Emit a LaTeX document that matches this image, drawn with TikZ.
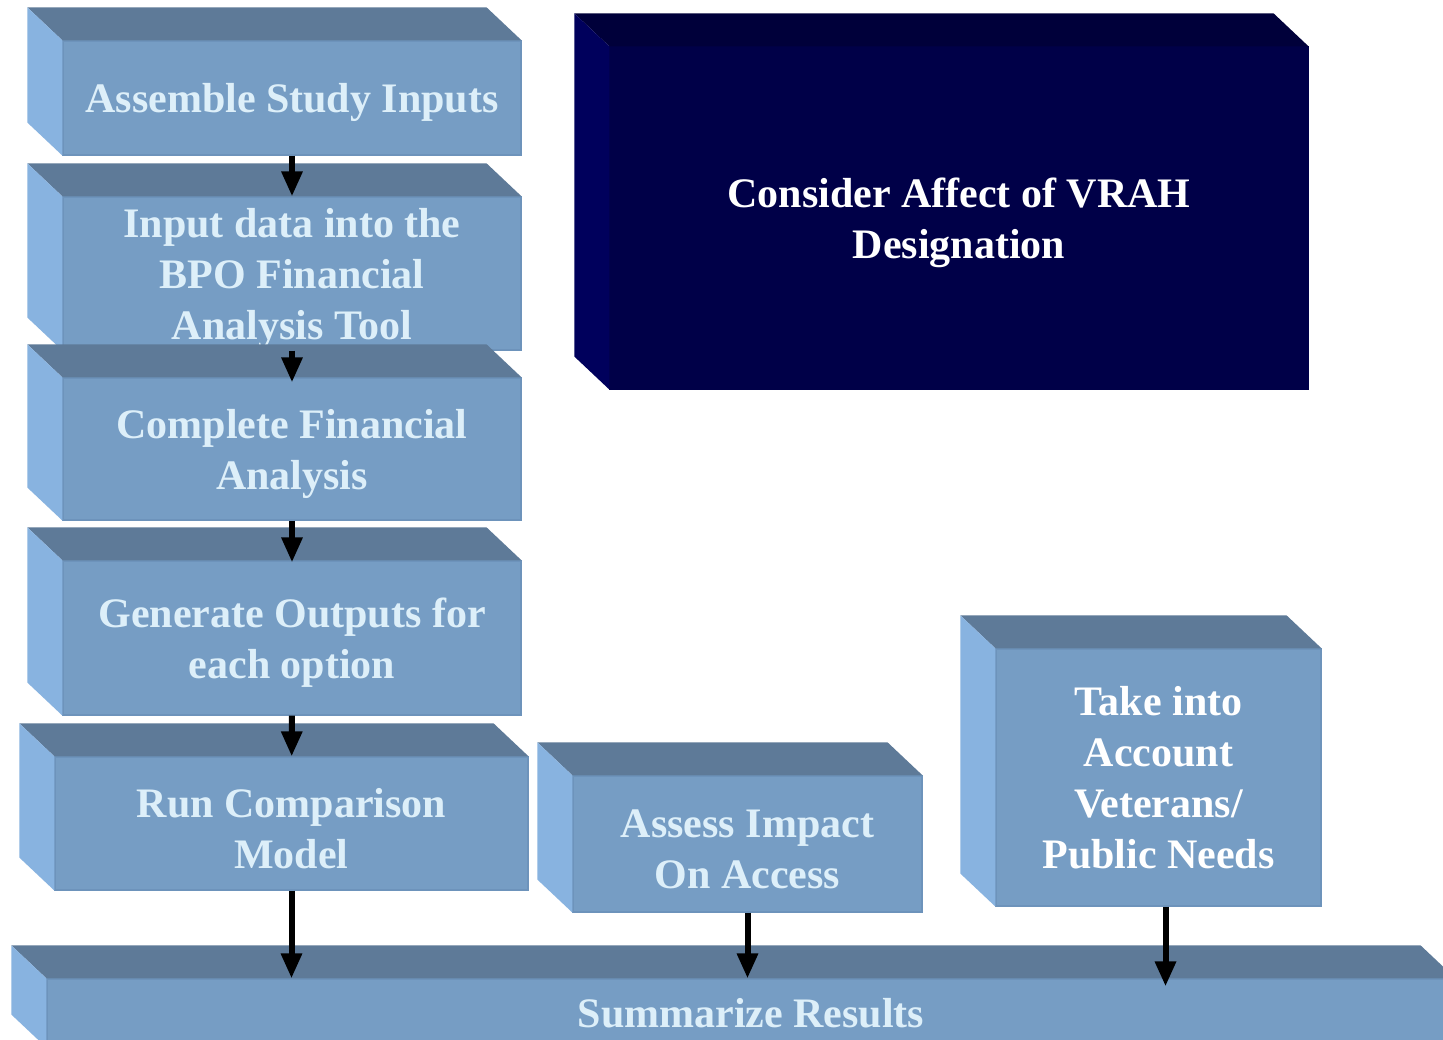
\documentclass[tikz,border=0pt]{standalone}
\usepackage{fontspec}
\setmainfont{Liberation Serif}
\usetikzlibrary{arrows.meta}
\definecolor{slabfront}{HTML}{769DC4}
\definecolor{slabtop}{HTML}{5E7A98}
\definecolor{slabside}{HTML}{88B3E0}
\definecolor{slabedge}{HTML}{6D93BB}
\definecolor{navyfront}{HTML}{000048}
\definecolor{navytop}{HTML}{00003A}
\definecolor{navyside}{HTML}{00005C}
\definecolor{paletext}{HTML}{DDEFF9}
% top and left faces behind a front node
\newcommand{\slabfaces}[3]{%
  \fill[#2] (#1.north west) -- ++(-35,-33) -- ([shift={(-35,-33)}]#1.north east)
    -- (#1.north east) -- cycle;
  \fill[#3] (#1.north west) -- ++(-35,-33) -- ([shift={(-35,-33)}]#1.south west)
    -- (#1.south west) -- cycle;}
\newcommand{\slabstrut}{\rule{0pt}{39pt}}
\begin{document}
\begin{tikzpicture}[x=1pt,y=-1pt,->,>={Triangle[length=25pt,width=20pt]},
  slab/.style={fill=slabfront,draw=slabedge,line width=1.2pt,inner sep=0pt,
    align=center,text=paletext,font=\fontsize{42}{51}\selectfont\bfseries},
  navy/.style={slab,fill=navyfront,draw=navyfront,text=white},
  flow/.style={line width=6pt,black}]
  \useasboundingbox[fill=white] (0,0) rectangle (1443,1040);
  \node[slab,minimum width=458pt,minimum height=114pt] (assemble) at (292,98)
    {\slabstrut Assemble Study Inputs};
  \slabfaces{assemble}{slabtop}{slabside}
  \node[slab,minimum width=458pt,minimum height=153pt] (inputdata) at (292,273.5)
    {\slabstrut Input data into the\\BPO Financial\\Analysis Tool};
  \slabfaces{inputdata}{slabtop}{slabside}
  \node[slab,minimum width=458pt,minimum height=142pt] (complete) at (292,449)
    {\slabstrut Complete Financial\\Analysis};
  \slabfaces{complete}{slabtop}{slabside}
  \node[slab,minimum width=458pt,minimum height=154pt] (generate) at (292,638)
    {\slabstrut Generate Outputs for\\each option};
  \slabfaces{generate}{slabtop}{slabside}
  \node[slab,minimum width=473pt,minimum height=133pt] (runmodel) at (291.5,823.5)
    {\slabstrut Run Comparison\\Model};
  \slabfaces{runmodel}{slabtop}{slabside}
  \node[slab,minimum width=349pt,minimum height=136pt] (assess) at (747.5,844)
    {\slabstrut Assess Impact\\On Access};
  \slabfaces{assess}{slabtop}{slabside}
  \node[slab,text=white,minimum width=325pt,minimum height=257pt] (needs) at (1158.5,777.5)
    {Take into\\Account\\Veterans/\\Public Needs};
  \slabfaces{needs}{slabtop}{slabside}
  \node[slab,minimum width=1408pt,minimum height=68pt] (summary) at (751,1013)
    {Summarize Results};
  \slabfaces{summary}{slabtop}{slabside}
  \node[navy,minimum width=698pt,minimum height=342pt] (vrah) at (959,218)
    {\slabstrut Consider Affect of VRAH\\Designation};
  \slabfaces{vrah}{navytop}{navyside}
  \draw[flow] (assemble) -- (inputdata);
  \draw[flow] (inputdata.south) -- ([yshift=-5pt]complete.north);
  \draw[flow] (complete) -- ([yshift=-2pt]generate.north);
  \draw[flow] (generate) -- (runmodel);
  \draw[flow] (runmodel.south) -- (runmodel.south |- summary.north);
  \draw[flow] (assess.south) -- (assess.south |- summary.north);
  \draw[flow] ([xshift=7pt]needs.south) -- ([xshift=7pt,yshift=-8pt]needs.south |- summary.north);
\end{tikzpicture}
\end{document}
